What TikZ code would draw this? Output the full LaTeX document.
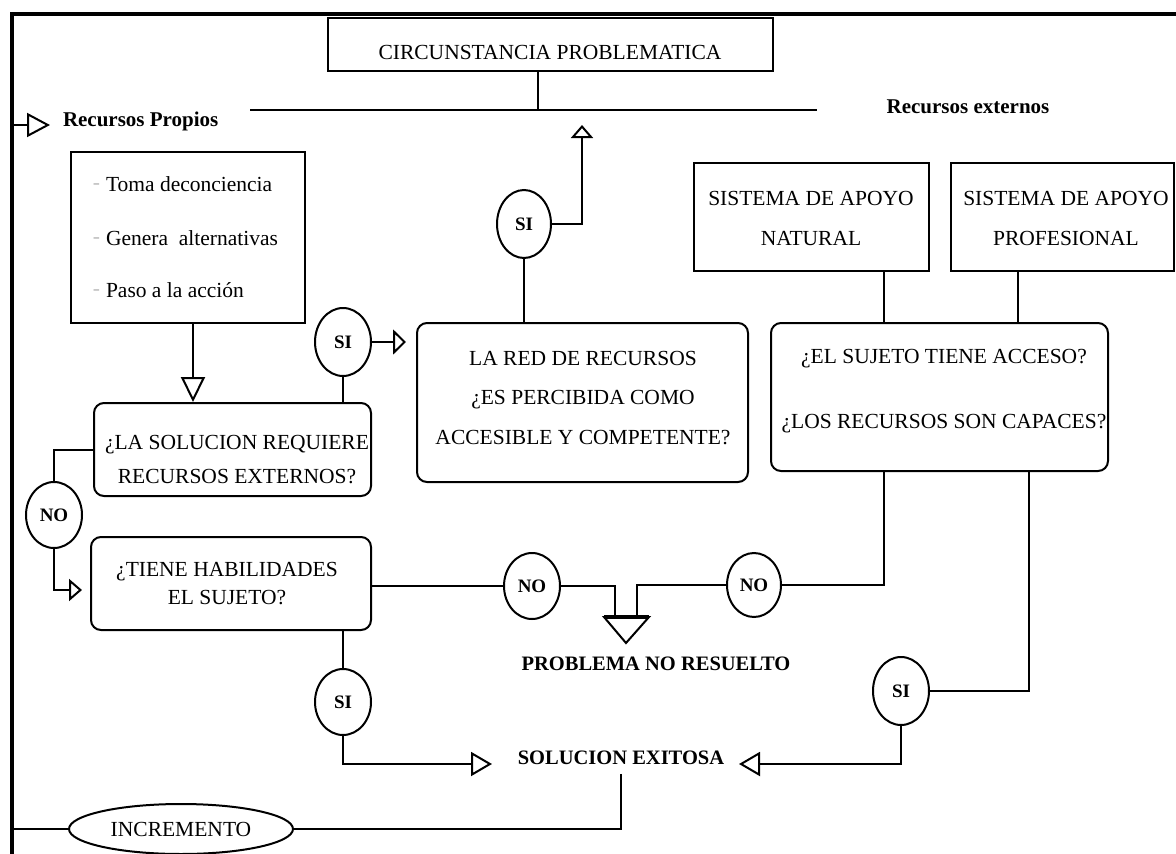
\documentclass[tikz,border=0pt]{standalone}
\usepackage{fontspec}
\setmainfont{Liberation Serif}
\usetikzlibrary{arrows.meta,shapes.geometric}

\tikzset{
  box/.style={draw, rectangle, inner sep=0pt},
  qbox/.style={draw, rectangle, rounded corners=10pt, inner sep=0pt},
  oval/.style={draw, ellipse, inner sep=0pt},
  lbl/.style={inner sep=0pt, align=center, font=\fontsize{21.5}{25}\selectfont},
  blbl/.style={inner sep=0pt, align=center, font=\bfseries\fontsize{20.5}{24}\selectfont},
  ans/.style={font=\bfseries\fontsize{19}{21}\selectfont},
  opentip/.style 2 args={-{Triangle[open,length=#1,width=#2]}},
  frame/.style={line width=3.5pt},
}

\begin{document}
\begin{tikzpicture}[x=1pt, y=-1pt, line width=2pt, line join=miter]
\useasboundingbox (0,0) rectangle (1176,854);

% outer frame (top and left)
\draw[frame] (1176,14) -- (12,14) -- (12,854);

% starting situation
\node[box, minimum width=445pt, minimum height=53pt] (circ) at (550.5,44.5) {};
\node[lbl] (circT) at (550,52) {CIRCUNSTANCIA PROBLEMATICA};

\coordinate (hl) at (250,110);
\coordinate (hr) at (817,110);
\coordinate (hj) at (538,110);
\draw (hj |- circ.south) -- (hj);
\draw (hl) -- (hr);

\node[blbl, anchor=west, font=\bfseries\fontsize{21}{24}\selectfont] (rp) at (62,121) {Recursos Propios};
\node[blbl, font=\bfseries\fontsize{21}{24}\selectfont] (rx) at (968,107) {Recursos externos};

% own resources
\node[box, minimum width=234pt, minimum height=171pt] (prop) at (188,237.5) {};
\node[lbl, anchor=west] (p1) at (105,184) {Toma deconciencia};
\node[lbl, anchor=west] (p2) at (105,238) {Genera\ \ alternativas};
\node[lbl, anchor=west] (p3) at (105,290) {Paso a la acción};
\node[lbl, anchor=east, text=black!25] (d1) at (101,187) {-};
\node[lbl, anchor=east, text=black!25] (d2) at (101,241) {-};
\node[lbl, anchor=east, text=black!25] (d3) at (101,293) {-};

% decision boxes
\node[qbox, minimum width=277pt, minimum height=93pt] (sol) at (232.5,449.5) {};
\node[lbl, font=\fontsize{21.5}{34}\selectfont] (solT) at (237,460) {¿LA SOLUCION REQUIERE\\RECURSOS EXTERNOS?};

\node[qbox, minimum width=331pt, minimum height=159pt] (red) at (582.5,402.5) {};
\node[lbl, font=\fontsize{21.5}{39.5}\selectfont] (redT) at (583,398) {LA RED DE RECURSOS\\¿ES PERCIBIDA COMO\\ACCESIBLE Y COMPETENTE?};

\node[qbox, minimum width=337pt, minimum height=148pt] (acc) at (939.5,397) {};
\node[lbl, font=\fontsize{21.5}{65}\selectfont] (accT) at (944,391) {¿EL SUJETO TIENE ACCESO?\\¿LOS RECURSOS SON CAPACES?};

\node[qbox, minimum width=280pt, minimum height=93pt] (tiene) at (231,583.5) {};
\node[lbl, font=\fontsize{21.5}{28}\selectfont] (tieneT) at (227,584) {¿TIENE HABILIDADES\\EL SUJETO?};

% support systems
\node[box, minimum width=235pt, minimum height=108pt] (nat) at (811.5,217) {};
\node[lbl, font=\fontsize{21.5}{40}\selectfont] (natT) at (811,218) {SISTEMA DE APOYO\\NATURAL};
\node[box, minimum width=223pt, minimum height=108pt] (prof) at (1062.5,217) {};
\node[lbl, font=\fontsize{21.5}{40}\selectfont] (profT) at (1066,218) {SISTEMA DE APOYO\\PROFESIONAL};

% answers
\node[oval, ans, minimum width=54pt, minimum height=68pt] (si2) at (524,224) {SI};
\node[oval, ans, minimum width=56pt, minimum height=68pt] (si1) at (343,342) {SI};
\node[oval, ans, minimum width=56pt, minimum height=66pt] (no1) at (54,515) {NO};
\node[oval, ans, minimum width=56pt, minimum height=66pt] (no1c) at (532,586) {NO};
\node[oval, ans, minimum width=54pt, minimum height=64pt] (no2) at (754,585) {NO};
\node[oval, ans, minimum width=56pt, minimum height=68pt] (si3) at (901,691) {SI};
\node[oval, ans, minimum width=56pt, minimum height=66pt] (si4) at (343,702) {SI};
\node[oval, lbl, minimum width=224pt, minimum height=50pt] (inc) at (181,829) {INCREMENTO};

% outcomes
\node[blbl] (pnr) at (656,664) {PROBLEMA NO RESUELTO};
\node[blbl] (se) at (621,758) {SOLUCION EXITOSA};

% free ends of connectors
\coordinate (rp0) at (12,125);
\coordinate (rp1) at (50,125);
\coordinate (t1) at (406,342);
\coordinate (t2) at (582,125);
\coordinate (xa) at (884,0);
\coordinate (xb) at (1018,0);
\coordinate (xc) at (1029,0);
\coordinate (t3) at (739,764);
\coordinate (t4) at (82,590);
\coordinate (t5) at (492,764);
\coordinate (bl) at (604,617);
\coordinate (br) at (649,617);
\coordinate (bt) at (626,643);
\coordinate (b1) at (615,617);
\coordinate (b2) at (637,617);
\coordinate (lb) at (12,829);
\coordinate (xp) at (193,0);
\coordinate (ys2) at (0,230);

% connectors
\draw[opentip={23pt}{24pt}] (rp0) -- (rp1);
\draw[opentip={25pt}{24pt}] (prop.south -| xp) -- (sol.north -| xp);
\draw (si1) -- (si1 |- sol.north);
\draw[opentip={13pt}{25pt}] (si1) -- (t1);
\draw (si2) -- (si2 |- red.north);
\draw[opentip={13pt}{22pt}] (si2.east) -| (t2);
\draw (nat.south -| xa) -- (acc.north -| xa);
\draw (prof.south -| xb) -- (acc.north -| xb);
\draw (acc.south -| xa) |- (no2);
\draw (acc.south -| xc) |- (si3);
\draw[opentip={21pt}{24pt}] (si3) |- (t3);
\draw (sol.west) -| (no1);
\draw[opentip={13pt}{22pt}] (no1) |- (t4);
\draw (tiene.east |- no1c) -- (no1c);
\draw (no1c) -| (b1);
\draw (no2) -| (b2);
\draw (bl) -- (br) -- (bt) -- cycle;
\draw[line width=3.5pt] (bl) -- (br);
\draw (si4 |- tiene.south) -- (si4);
\draw[opentip={21pt}{24pt}] (si4) |- (t5);
\draw ([yshift=-8pt]se.south) |- (inc);
\draw (inc) -- (lb);
\end{tikzpicture}
\end{document}
